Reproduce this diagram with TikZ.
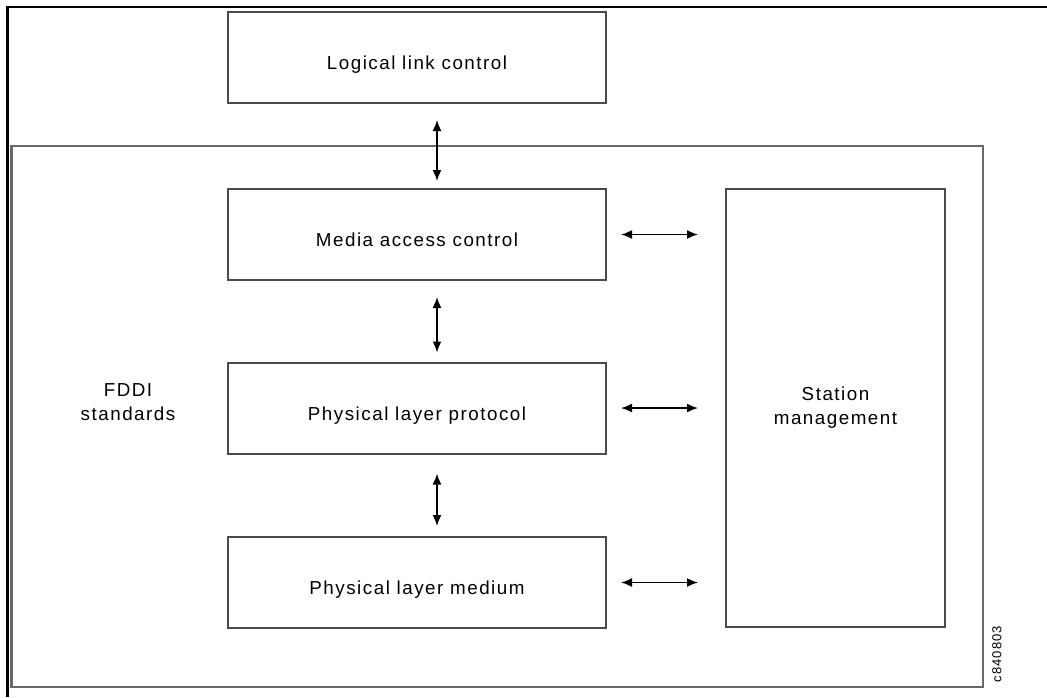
\documentclass[tikz,border=0pt]{standalone}
\usepackage{fontspec}
\setmainfont{Liberation Sans}[LetterSpace=8]
\usetikzlibrary{arrows.meta}
\definecolor{boxgray}{RGB}{75,75,75}
\definecolor{biggray}{RGB}{105,105,105}
\tikzset{
  frame/.style={line width=2.4pt, draw=black},
  layerbox/.style={draw=boxgray, line width=2pt, minimum width=378pt, minimum height=91pt,
    inner sep=0pt, font=\fontsize{18.8}{24}\selectfont, text height=27pt, text depth=3pt},
  smbox/.style={draw=boxgray, line width=2pt, minimum width=219pt, minimum height=438pt,
    inner sep=0pt, align=center, font=\fontsize{18.8}{24}\selectfont},
  bigbox/.style={draw=biggray, line width=2.2pt},
  plain/.style={align=center, font=\fontsize{18.8}{24}\selectfont, inner sep=0pt},
  dbl/.style={line width=1.6pt, arrows={Latex[length=11pt,width=9pt]-Latex[length=11pt,width=9pt]}},
}
\begin{document}
\begin{tikzpicture}[x=1pt,y=-1pt]
\useasboundingbox (0,0) rectangle (1047,697);
% outer frame (top and left only)
\draw[frame] (7.5,697) -- (7.5,6.7) -- (1047,6.7);
% FDDI standards enclosure
\draw[bigbox] (11.5,146) rectangle (983,687);
% boxes
\node[layerbox] (llc) at (417,57.5) {Logical link control};
\node[layerbox] (mac) at (417,234.5) {Media access control};
\node[layerbox] (plp) at (417,408) {Physical layer protocol};
\node[layerbox] (pmd) at (417,582.5) {Physical layer medium};
\node[smbox] (sm) at (835.5,408) {Station\\management};
\node[plain] (fddi) at (128,402) {FDDI\\standards};
\node[rotate=90, font=\fontsize{13}{13}\selectfont, inner sep=0pt] (id) at (997,654) {c840803};
% vertical arrows
\draw[dbl, shorten <=16pt, shorten >=7pt] ([xshift=20pt]llc.south) -- ([xshift=20pt]mac.north);
\draw[dbl, shorten <=16pt, shorten >=9pt] ([xshift=20pt]mac.south) -- ([xshift=20pt]plp.north);
\draw[dbl, shorten <=19pt, shorten >=10pt] ([xshift=20pt]plp.south) -- ([xshift=20pt]pmd.north);
% horizontal arrows
\draw[dbl, shorten <=14pt, shorten >=27pt] (mac.east) -- (mac.east -| sm.west);
\draw[dbl, shorten <=14pt, shorten >=27pt] (plp.east) -- (plp.east -| sm.west);
\draw[dbl, shorten <=14pt, shorten >=27pt] (pmd.east) -- (pmd.east -| sm.west);
\end{tikzpicture}
\end{document}
